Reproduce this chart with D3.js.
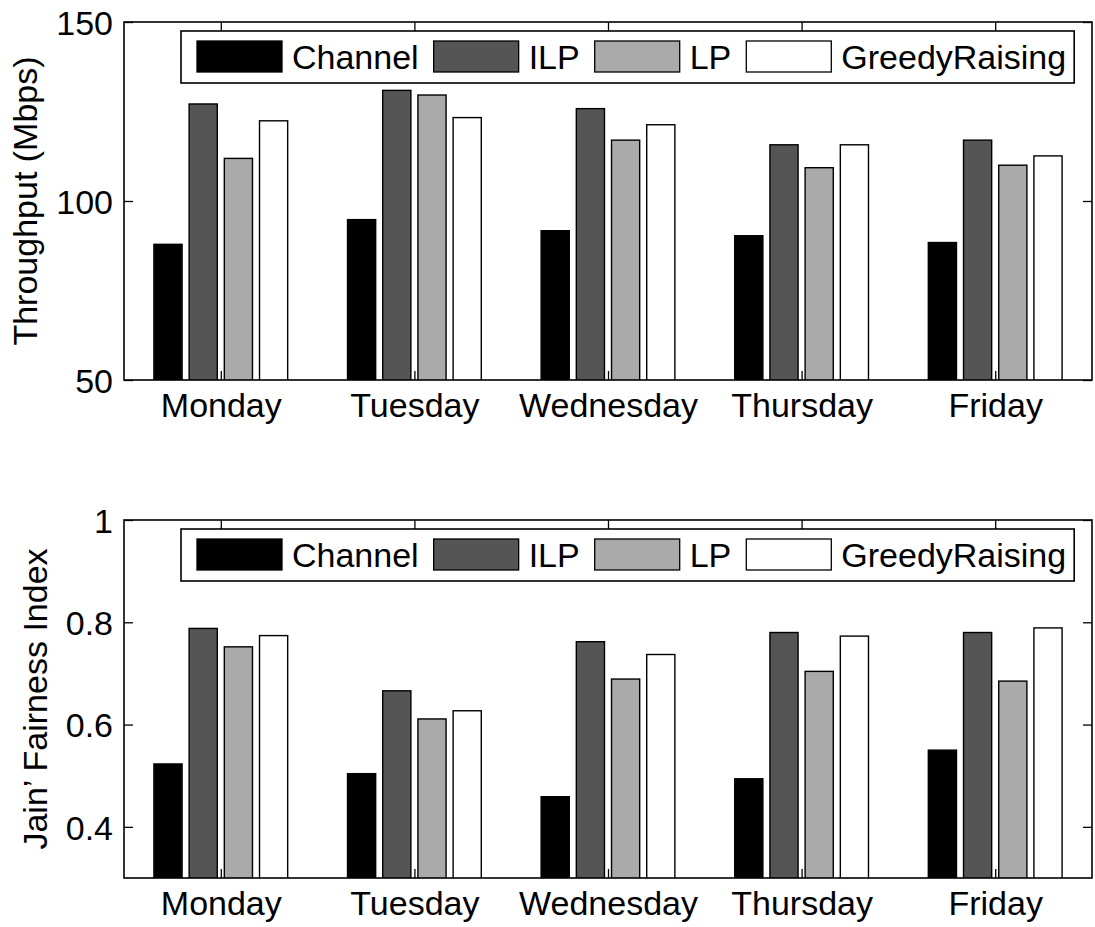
<!DOCTYPE html>
<html>
<head>
<meta charset="utf-8">
<script src="https://cdn.jsdelivr.net/npm/d3@7"></script>
<style>
  html, body { margin: 0; padding: 0; background: #fff; overflow: hidden; }
  svg { display: block; }
  text { font-family: "Liberation Sans", Arial, Helvetica, sans-serif; fill: #000; }
</style>
</head>
<body>
<svg id="chart" width="1095" height="927"></svg>
<script>
// ---------------- data ----------------
const days = ["Monday", "Tuesday", "Wednesday", "Thursday", "Friday"];
const seriesNames = ["Channel", "ILP", "LP", "GreedyRaising"];
const seriesColors = ["#000000", "#555555", "#aaaaaa", "#ffffff"];

const throughputChannel = [87.9, 94.8, 91.7, 90.3, 88.4];
const throughputILP     = [127.1, 130.9, 125.8, 115.7, 117.0];
const throughputLP      = [111.9, 129.6, 117.0, 109.3, 110.0];
const throughputGreedy  = [122.4, 123.3, 121.3, 115.7, 112.6];

const fairnessChannel = [0.523, 0.504, 0.459, 0.494, 0.550];
const fairnessILP     = [0.788, 0.666, 0.762, 0.780, 0.780];
const fairnessLP      = [0.752, 0.611, 0.689, 0.704, 0.685];
const fairnessGreedy  = [0.774, 0.627, 0.737, 0.773, 0.789];

const throughputDomain = [50, 150];
const throughputTicks = [50, 100, 150];
const fairnessDomain = [0.3, 1];
const fairnessTicks = [0.4, 0.6, 0.8, 1];

const throughputLabel = "Throughput (Mbps)";
const fairnessLabel = "Jain\u2019 Fairness Index";

// ---------------- drawing ----------------
const svg = d3.select("#chart");
const FONT = 34;
const left = 124, right = 1092;
const nSeries = seriesNames.length;
const groupWidth = Math.min(0.8, nSeries / (nSeries + 1.5));
const slot = groupWidth / nSeries;

function panel(opts) {
  const g = svg.append("g");
  const x = d3.scaleLinear().domain([0.5, days.length + 0.5]).range([left, right]);
  const y = d3.scaleLinear().domain(opts.domain).range([opts.bottom, opts.top]);

  const clipId = "clip" + opts.id;
  g.append("clipPath").attr("id", clipId)
    .append("rect").attr("x", left).attr("y", opts.top)
    .attr("width", right - left).attr("height", opts.bottom - opts.top);

  // bars
  const bars = g.append("g").attr("clip-path", `url(#${clipId})`);
  opts.series.forEach((vals, si) => {
    bars.selectAll(null).data(vals).enter().append("rect")
      .attr("x", (d, i) => x(i + 1 + (si - (nSeries - 1) / 2) * slot - slot * 0.4))
      .attr("width", x(slot * 0.8) - x(0))
      .attr("y", d => y(d))
      .attr("height", d => y(opts.domain[0]) - y(d) + 3)
      .attr("fill", seriesColors[si])
      .attr("stroke", "#000")
      .attr("stroke-width", 1.4);
  });

  // axes
  const tickLen = 9;
  const axL = g.append("g").attr("transform", `translate(${left},0)`)
    .call(d3.axisLeft(y).tickValues(opts.ticks).tickSize(-tickLen).tickPadding(11).tickFormat(d3.format("~g")));
  const axR = g.append("g").attr("transform", `translate(${right},0)`)
    .call(d3.axisRight(y).tickValues(opts.ticks).tickSize(-tickLen).tickFormat(""));
  const axB = g.append("g").attr("transform", `translate(0,${opts.bottom})`)
    .call(d3.axisBottom(x).tickValues(d3.range(1, days.length + 1)).tickSize(-tickLen).tickPadding(13)
      .tickFormat(d => days[d - 1]));
  const axT = g.append("g").attr("transform", `translate(0,${opts.top})`)
    .call(d3.axisTop(x).tickValues(d3.range(1, days.length + 1)).tickSize(-tickLen).tickFormat(""));
  [axL, axR, axB, axT].forEach(a => {
    a.select(".domain").remove();
    a.selectAll("line").attr("stroke", "#000").attr("stroke-width", 1.3);
    a.selectAll("text").style("font-size", FONT + "px").attr("fill", "#000")
      .style("font-family", '"Liberation Sans", Arial, sans-serif');
  });
  axL.selectAll("text").attr("dy", "0.36em");
  axB.selectAll("text").attr("dy", "0.72em");

  g.append("rect").attr("x", left).attr("y", opts.top)
    .attr("width", right - left).attr("height", opts.bottom - opts.top)
    .attr("fill", "none").attr("stroke", "#000").attr("stroke-width", 1.6);

  // y label
  g.append("text")
    .attr("transform", `translate(${opts.labelX},${(opts.top + opts.bottom) / 2}) rotate(-90)`)
    .attr("text-anchor", "middle")
    .style("font-size", FONT + "px")
    .text(opts.label);

  // legend
  const lg = g.append("g");
  const lgTop = opts.top + 9, lgH = 52;
  const box = lg.append("rect").attr("x", 181).attr("y", lgTop).attr("height", lgH)
    .attr("fill", "#fff").attr("stroke", "#000").attr("stroke-width", 1.6);
  let cx = 197;
  const gap = 15;
  seriesNames.forEach((name, si) => {
    lg.append("rect").attr("x", cx).attr("y", lgTop + 10).attr("width", 85).attr("height", 31)
      .attr("fill", seriesColors[si]).attr("stroke", "#000").attr("stroke-width", 1.3);
    const t = lg.append("text").attr("x", cx + 95).attr("y", lgTop + 38)
      .style("font-size", FONT + "px").text(name);
    cx += 95 + t.node().getComputedTextLength() + gap;
  });
  box.attr("width", cx - gap + 8 - 181);
}

panel({ id: 1, top: 22, bottom: 380, domain: throughputDomain, ticks: throughputTicks,
  label: throughputLabel, labelX: 37,
  series: [throughputChannel, throughputILP, throughputLP, throughputGreedy] });

panel({ id: 2, top: 520, bottom: 878, domain: fairnessDomain, ticks: fairnessTicks,
  label: fairnessLabel, labelX: 47,
  series: [fairnessChannel, fairnessILP, fairnessLP, fairnessGreedy] });
</script>
</body>
</html>
